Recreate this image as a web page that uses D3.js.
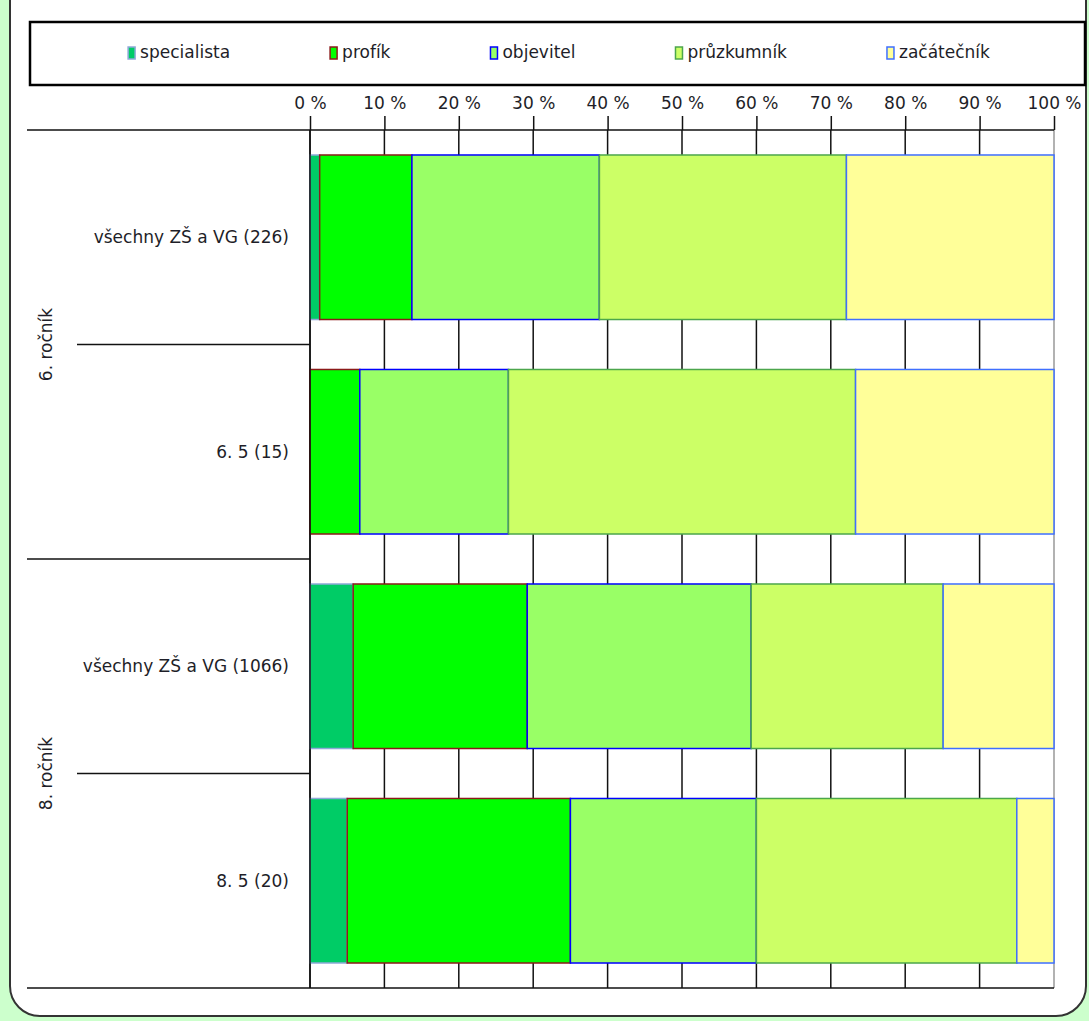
<!DOCTYPE html>
<html>
<head>
<meta charset="utf-8">
<script src="https://cdn.jsdelivr.net/npm/d3@7"></script>
<style>
  body { margin: 0; background: #ccffcc; }
  svg { display: block; }
</style>
</head>
<body>
<svg id="chart" width="1089" height="1021"></svg>
<script>
// data (percent of pupils)
const categories = ["všechny ZŠ a VG (226)", "6. 5 (15)", "všechny ZŠ a VG (1066)", "8. 5 (20)"]
const categoryGroup = ["6. ročník", "6. ročník", "8. ročník", "8. ročník"]
const groups = ["6. ročník", "8. ročník"]
const seriesNames = ["specialista", "profík", "objevitel", "průzkumník", "začátečník"]
const specialista = [1.3, 0, 5.8, 5]
const profik = [12.4, 6.7, 23.4, 30]
const objevitel = [25.2, 20, 30.1, 25]
const pruzkumnik = [33.2, 46.7, 25.8, 35]
const zacatecnik = [27.9, 26.7, 14.9, 5]
const xTicks = [0, 0.1, 0.2, 0.3, 0.4, 0.5, 0.6, 0.7, 0.8, 0.9, 1]

const fills = ["#00cc66", "#00ff00", "#99ff66", "#ccff66", "#ffff99"]
const strokes = ["#8fa9d8", "#8b1a1a", "#0000ff", "#4ca64c", "#3f6fff"]
const font = "'DejaVu Sans', sans-serif"
const fontSize = "17px"
const textColor = "#1e1e28"

const seriesValues = [specialista, profik, objevitel, pruzkumnik, zacatecnik]
const rows = categories.map((c, i) => {
    const r = { category: c }
    seriesNames.forEach((s, j) => r[s] = seriesValues[j][i])
    return r
})
const stacked = d3.stack().keys(seriesNames).offset(d3.stackOffsetExpand)(rows)

const svg = d3.select("#chart")

// rounded frame
svg.append("rect")
    .attr("x", 10).attr("y", -40)
    .attr("width", 1076).attr("height", 1056)
    .attr("rx", 30)
    .attr("fill", "white")
    .attr("stroke", "#333").attr("stroke-width", 2)

// legend
const legend = svg.append("g")
legend.append("rect")
    .attr("x", 30).attr("y", 22)
    .attr("width", 1055).attr("height", 63)
    .attr("fill", "white")
    .attr("stroke", "black").attr("stroke-width", 2.5)

const items = legend.selectAll(".item")
    .data(seriesNames)
    .enter()
    .append("g")
    .attr("class", "item")
items.append("rect")
    .attr("width", 7).attr("height", 12)
    .attr("y", -6)
    .attr("fill", (d, i) => fills[i])
    .attr("stroke", (d, i) => strokes[i])
    .attr("stroke-width", 1.5)
items.append("text")
    .text(d => d)
    .attr("x", 12)
    .attr("dy", "0.3em")
    .attr("font-family", font)
    .attr("font-size", fontSize)
    .attr("fill", textColor)

const gap = 100
const widths = []
items.each(function () { widths.push(12 + this.querySelector("text").getComputedTextLength()) })
const total = d3.sum(widths) + gap * (widths.length - 1)
let cx = 559 - total / 2
items.attr("transform", function (d, i) {
    const t = "translate(" + cx + ",53)"
    cx += widths[i] + gap
    return t
})

// scales
const x = d3.scaleLinear().domain([0, 1]).range([310, 1054])
const y = d3.scaleBand().domain(categories).range([130, 988]).paddingInner(0.233).paddingOuter(0.1165)

// vertical grid lines
svg.append("g")
    .selectAll("line")
    .data(xTicks)
    .enter()
    .append("line")
    .attr("x1", d => x(d)).attr("x2", d => x(d))
    .attr("y1", 130).attr("y2", 988)
    .attr("stroke", d => d === 1 ? "#999" : "#111")
    .attr("stroke-width", 1.5)

// top axis
const xAxis = d3.axisTop(x)
    .tickValues(xTicks)
    .tickSize(14)
    .tickPadding(7)
    .tickFormat(d => Math.round(d * 100) + " %")
const ax = svg.append("g")
    .attr("transform", "translate(0,130)")
    .call(xAxis)
ax.select(".domain").remove()
ax.selectAll(".tick line").attr("stroke", "#111").attr("stroke-width", 1.5)
ax.selectAll(".tick text")
    .attr("font-family", font)
    .attr("font-size", fontSize)
    .attr("fill", textColor)

// bars
svg.append("g")
    .selectAll("g")
    .data(stacked)
    .enter()
    .append("g")
    .attr("fill", (d, i) => fills[i])
    .attr("stroke", (d, i) => strokes[i])
    .attr("stroke-width", 1.5)
    .selectAll("rect")
    .data(d => d.filter(p => p[1] - p[0] > 0))
    .enter()
    .append("rect")
    .attr("x", d => x(d[0]))
    .attr("y", d => y(d.data.category))
    .attr("width", d => x(d[1]) - x(d[0]))
    .attr("height", y.bandwidth())

// left axis lines
const lines = svg.append("g").attr("stroke", "#111").attr("stroke-width", 1.5)
lines.append("line").attr("x1", 27).attr("x2", 1054).attr("y1", 130).attr("y2", 130)
lines.append("line").attr("x1", 27).attr("x2", 1054).attr("y1", 988).attr("y2", 988)
lines.append("line").attr("x1", 310).attr("x2", 310).attr("y1", 130).attr("y2", 988)
const step = y.step()
categories.forEach((c, i) => {
    if (i === 0) return
    const yy = y(c) - step * y.paddingInner() / 2
    const newGroup = categoryGroup[i] !== categoryGroup[i - 1]
    lines.append("line")
        .attr("x1", newGroup ? 27 : 77).attr("x2", 310)
        .attr("y1", yy).attr("y2", yy)
})

// category labels
svg.append("g")
    .selectAll("text")
    .data(categories)
    .enter()
    .append("text")
    .text(d => d)
    .attr("x", 289)
    .attr("y", d => y(d) + y.bandwidth() / 2)
    .attr("dy", "0.35em")
    .attr("text-anchor", "end")
    .attr("font-family", font)
    .attr("font-size", fontSize)
    .attr("fill", textColor)

// group labels
svg.append("g")
    .selectAll("text")
    .data(groups)
    .enter()
    .append("text")
    .text(d => d)
    .attr("transform", function (g) {
        const cs = categories.filter((c, i) => categoryGroup[i] === g)
        const top = y(cs[0]) - step * y.paddingOuter()
        const bottom = y(cs[cs.length - 1]) + y.bandwidth() + step * y.paddingOuter()
        return "translate(46," + (top + bottom) / 2 + ") rotate(-90)"
    })
    .attr("dy", "0.35em")
    .attr("text-anchor", "middle")
    .attr("font-family", font)
    .attr("font-size", fontSize)
    .attr("fill", textColor)
</script>
</body>
</html>
